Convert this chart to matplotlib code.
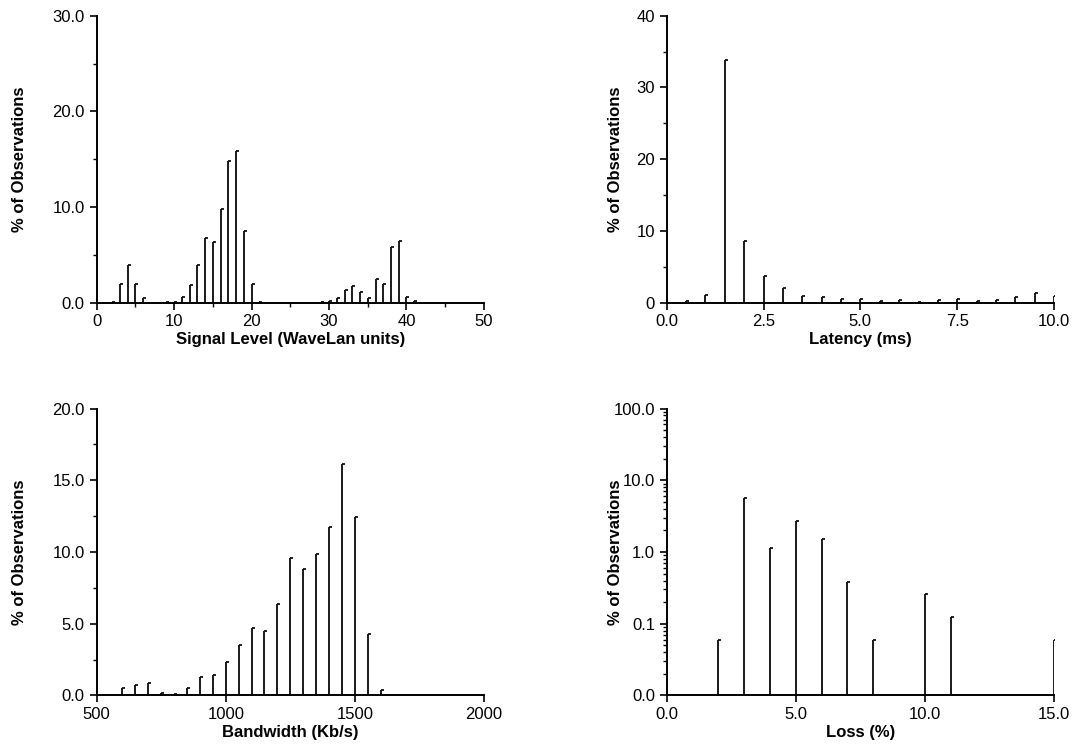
import numpy as np
import matplotlib.pyplot as plt
from matplotlib.ticker import MultipleLocator, FormatStrFormatter, FixedLocator, FuncFormatter, LogLocator, NullFormatter

plt.rcParams['font.family'] = ['Liberation Sans', 'DejaVu Sans']

# signal level histogram (WaveLan units)
signal_x = [2, 3, 4, 5, 6, 9, 10, 11, 12, 13, 14, 15, 16, 17, 18, 19, 20, 21,
            29, 30, 31, 32, 33, 34, 35, 36, 37, 38, 39, 40, 41]
signal_pct = [0.1, 2.0, 3.95, 1.95, 0.5, 0.05, 0.1, 0.55, 1.8, 3.9, 6.8, 6.3, 9.8, 14.8, 15.9, 7.5, 1.9, 0.1,
              0.05, 0.2, 0.45, 1.3, 1.7, 1.15, 0.45, 2.5, 1.95, 5.8, 6.4, 0.55, 0.15]

# latency histogram (ms)
latency_x = [0.5, 1.0, 1.5, 2.0, 2.5, 3.0, 3.5, 4.0, 4.5, 5.0, 5.5, 6.0, 6.5, 7.0,
             7.5, 8.0, 8.5, 9.0, 9.5, 10.0]
latency_pct = [0.2, 1.0, 33.8, 8.6, 3.7, 2.05, 0.93, 0.8, 0.47, 0.5, 0.23, 0.37, 0.1, 0.37,
               0.5, 0.23, 0.37, 0.8, 1.35, 0.93]

# bandwidth histogram (Kb/s)
bw_x = [600, 650, 700, 750, 800, 850, 900, 950, 1000, 1050, 1100, 1150, 1200, 1250,
        1300, 1350, 1400, 1450, 1500, 1550, 1600]
bw_pct = [0.5, 0.7, 0.9, 0.15, 0.1, 0.5, 1.3, 1.4, 2.3, 3.5, 4.7, 4.5, 6.4, 9.55,
          8.8, 9.85, 11.75, 16.1, 12.45, 4.3, 0.4]

# loss histogram (%)
loss_x = [2, 3, 4, 5, 6, 7, 8, 10, 11, 15]
loss_pct = [0.06, 5.6, 1.14, 2.74, 1.52, 0.38, 0.06, 0.26, 0.123, 0.06]

fig = plt.figure(figsize=(10.8, 7.51), dpi=100)

W, H = 0.3586, 0.382
ax1 = fig.add_axes([0.0895, 0.597, W, H])
ax2 = fig.add_axes([0.6173, 0.597, W, H])
ax3 = fig.add_axes([0.0895, 0.074, W, H])
ax4 = fig.add_axes([0.6173, 0.074, W, H])

# small cap drawn to the right of each bar top
cap = [(0, 0), (1, 0)]


def bars(ax, x, y, base=0):
    ax.vlines(x, base, y, color='#1a1a1a', linewidth=1.4)
    ax.plot(x, y, linestyle='none', marker=cap, markersize=5, color='#111111',
            markeredgewidth=1.3, fillstyle='none')


def style(ax, xlabel, ylab_x):
    for s in ['top', 'right']:
        ax.spines[s].set_visible(False)
    for s in ['left', 'bottom']:
        ax.spines[s].set_linewidth(1.4)
    ax.tick_params(which='major', direction='out', length=5, width=1.2, labelsize=12)
    ax.tick_params(which='minor', direction='out', length=3, width=1.0)
    ax.set_xlabel(xlabel, fontsize=12, fontweight='bold', labelpad=2)
    ax.set_ylabel('% of Observations', fontsize=12, fontweight='bold')
    ax.yaxis.set_label_coords(ylab_x, 0.5)


bars(ax1, signal_x, signal_pct)
ax1.set_xlim(0, 50)
ax1.set_ylim(0, 30)
ax1.xaxis.set_major_locator(MultipleLocator(10))
ax1.xaxis.set_minor_locator(MultipleLocator(5))
ax1.yaxis.set_major_locator(MultipleLocator(10))
ax1.yaxis.set_minor_locator(MultipleLocator(5))
ax1.yaxis.set_major_formatter(FormatStrFormatter('%.1f'))
style(ax1, 'Signal Level (WaveLan units)', -0.18)

bars(ax2, latency_x, latency_pct)
ax2.set_xlim(0, 10)
ax2.set_ylim(0, 40)
ax2.xaxis.set_major_locator(MultipleLocator(2.5))
ax2.xaxis.set_major_formatter(FormatStrFormatter('%.1f'))
ax2.yaxis.set_major_locator(MultipleLocator(10))
ax2.yaxis.set_minor_locator(MultipleLocator(5))
style(ax2, 'Latency (ms)', -0.112)

bars(ax3, bw_x, bw_pct)
ax3.set_xlim(500, 2000)
ax3.set_ylim(0, 20)
ax3.xaxis.set_major_locator(MultipleLocator(500))
ax3.yaxis.set_major_locator(MultipleLocator(5))
ax3.yaxis.set_minor_locator(MultipleLocator(2.5))
ax3.yaxis.set_major_formatter(FormatStrFormatter('%.1f'))
style(ax3, 'Bandwidth (Kb/s)', -0.18)

bars(ax4, loss_x, loss_pct, base=0.01)
ax4.set_yscale('log')
ax4.set_xlim(0, 15)
ax4.set_ylim(0.01, 100)
ax4.xaxis.set_major_locator(MultipleLocator(5))
ax4.xaxis.set_major_formatter(FormatStrFormatter('%.1f'))
ax4.yaxis.set_major_locator(FixedLocator([0.01, 0.1, 1, 10, 100]))
ax4.yaxis.set_major_formatter(FuncFormatter(lambda v, p: '%.1f' % v))
ax4.yaxis.set_minor_locator(LogLocator(base=10, subs=np.arange(2, 10)))
ax4.yaxis.set_minor_formatter(NullFormatter())
style(ax4, 'Loss (%)', -0.112)

fig.savefig('out.png', dpi=100)
